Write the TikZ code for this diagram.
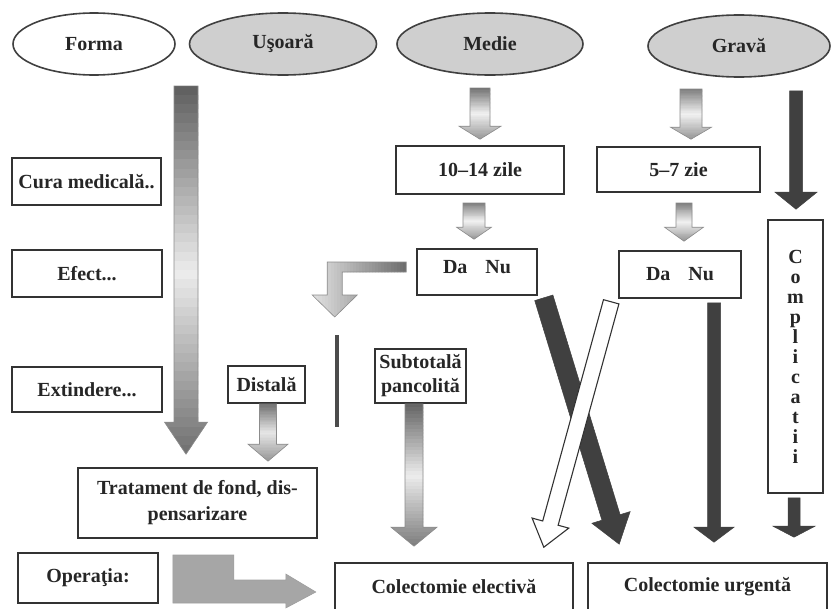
\documentclass[tikz,border=0pt]{standalone}
\usepackage{fontspec}
\setmainfont{Liberation Serif}
\usetikzlibrary{calc,shapes.geometric}

% block arrow outline: style, start, tip, half shaft width, half head width, head length (pt)
\newcommand\blockarrow[6]{%
  \path[#1] let \p1=#2, \p2=#3, \p3=($(\p2)!#6pt!(\p1)$) in
    ($(\p1)!#4pt!90:(\p2)$) -- ($(\p3)!#4pt!90:(\p2)$) -- ($(\p3)!#5pt!90:(\p2)$)
    -- (\p2)
    -- ($(\p3)!#5pt!-90:(\p2)$) -- ($(\p3)!#4pt!-90:(\p2)$) -- ($(\p1)!#4pt!-90:(\p2)$)
    -- cycle;}

% vertical block arrow filled with a banded grey gradient
% start, tip, half shaft, half head, head length, top / middle / bottom darkness (percent black)
\newcommand\gradarrow[8]{%
  \begin{scope}
    \blockarrow{clip}{#1}{#2}{#3}{#4}{#5}
    \foreach \i in {0,...,39}{%
      \pgfmathsetmacro\shade{\i<20 ? #6+(#7-#6)*\i/19.5 : #7+(#8-#7)*(\i-20)/19}
      \fill[black!\shade] let \p1=#1, \p2=#2 in
        ({\x1-40pt},{\y1+(\y2-\y1)*\i/40}) rectangle ({\x1+40pt},{\y1+(\y2-\y1)*(\i+1.5)/40});
    }
  \end{scope}
  \blockarrow{arrowedge}{#1}{#2}{#3}{#4}{#5}}

\tikzset{
  txt/.style={font=\fontsize{20}{24}\selectfont\bfseries, text=black!85},
  oval/.style={txt, ellipse, draw=black!75, line width=1.6pt, inner sep=0pt},
  whiteoval/.style={oval, fill=white},
  greyoval/.style={oval, fill=gray!38},
  box/.style={txt, rectangle, draw=black!80, line width=1.6pt, inner sep=0pt,
    fill=white, align=center},
  arrowedge/.style={draw=black!45, line width=0.6pt},
  darkarrow/.style={fill=black!75, draw=black!75, line width=0.5pt},
  hollowarrow/.style={fill=white, draw=black!80, line width=1.1pt},
  blockfill/.style={fill=gray!70, draw=gray!75, line width=0.6pt},
  stick/.style={line width=4pt, draw=black!70}
}

\begin{document}
\begin{tikzpicture}[x=1pt, y=-1pt]
\useasboundingbox (0,0) rectangle (835,608);
\fill[white] (0,0) rectangle (835,608);

% header ovals
\node[whiteoval, minimum width=162, minimum height=62] (forma)  at (94,44)  {Forma};
\node[greyoval,  minimum width=187, minimum height=62] (usoara) at (283,44) {Uşoară};
\node[greyoval,  minimum width=186, minimum height=62] (medie)  at (490,44) {Medie};
\node[greyoval,  minimum width=182, minimum height=62] (grava)  at (739,46) {Gravă};

% row labels
\node[box, minimum width=149, minimum height=47] (cura)  at (86.5,181.5) {Cura medicală..};
\node[box, minimum width=150, minimum height=47] (efect) at (87,273.5)   {Efect...};
\node[box, minimum width=150, minimum height=45] (ext)   at (87,389.5)   {Extindere...};
\node[box, minimum width=140, minimum height=50] (oper)  at (88,578)     {Operaţia:};

% flow boxes
\node[box, minimum width=239, minimum height=70, font=\fontsize{20}{26}\selectfont\bfseries]
  (trat) at (197.5,503) {Tratament de fond, dis-\\pensarizare};
\node[box, minimum width=168, minimum height=48] (z1014) at (480,170)   {10--14 zile};
\node[box, minimum width=163, minimum height=45] (z57)   at (678.5,169.5) {5--7 zie};
\node[box, minimum width=120, minimum height=46, text depth=10pt] (dn1) at (477,272) {Da\hspace{18pt}Nu};
\node[box, minimum width=122, minimum height=47] (dn2)   at (680,274.5) {Da\hspace{18pt}Nu};
\node[box, minimum width=77,  minimum height=37] (dist)  at (266.5,384.5) {Distală};
\node[box, minimum width=91,  minimum height=54] (subt)  at (420.5,376) {Subtotală\\pancolită};
\node[box, minimum width=55,  minimum height=273, font=\fontsize{20}{20}\selectfont\bfseries]
  (compl) at (795.5,356.5) {C\\o\\m\\p\\l\\i\\c\\a\\t\\i\\i};
\node[box, minimum width=238, minimum height=47] (colel) at (454,586.5) {Colectomie electivă};
\node[box, minimum width=239, minimum height=47] (colur) at (707.5,586.5) {Colectomie urgentă};

% arrow end points
\coordinate (uT) at ($(trat.north)+(-11.5,-13)$);
\coordinate (uS) at ($(uT |- usoara.south)+(0,10)$);
\coordinate (m1) at ($(z1014.north |- medie.south)+(0,12)$);
\coordinate (m2) at ($(z1014.north)+(0,-6)$);
\coordinate (n1) at ($(dn1.north |- z1014.south)+(-3,8)$);
\coordinate (n2) at ($(dn1.north)+(-3,-9)$);
\coordinate (g1) at ($(z57.north |- grava.south)+(12.5,11)$);
\coordinate (g2) at ($(z57.north)+(12.5,-7)$);
\coordinate (k1) at ($(dn2.north |- z57.south)+(4,10)$);
\coordinate (k2) at ($(dn2.north)+(4,-9)$);
\coordinate (d1) at ($(dn2.south)+(34,4)$);
\coordinate (d2) at ($(d1 |- colur.north)+(0,-20)$);
\coordinate (c1) at ($(compl.north |- grava.south)+(0.5,13)$);
\coordinate (c2) at ($(compl.north)+(0.5,-10)$);
\coordinate (c3) at ($(compl.south)+(-1.5,4)$);
\coordinate (c4) at ($(c3 |- colur.north)+(0,-25)$);
\coordinate (t1) at ($(dist.south)+(1.5,0)$);
\coordinate (t2) at ($(t1 |- trat.north)+(0,-6)$);
\coordinate (s1) at ($(subt.south)+(-6.5,0)$);
\coordinate (s2) at ($(s1 |- colel.north)+(0,-16)$);
\coordinate (x1) at ($(dn1.south east)+(6,2)$);
\coordinate (x2) at ($(colur.north west)+(32,-18)$);
\coordinate (w1) at ($(dn2.south west)+(-7,3)$);
\coordinate (w2) at ($(colel.north east)+(-30,-15)$);

% shaded arrows
\gradarrow{(uS)}{(uT)}{12}{21.5}{32}{62}{8}{55}
\gradarrow{(m1)}{(m2)}{10}{21}{13}{55}{6}{40}
\gradarrow{(n1)}{(n2)}{11}{17.5}{12}{50}{6}{40}
\gradarrow{(g1)}{(g2)}{11}{20.5}{12}{50}{6}{40}
\gradarrow{(k1)}{(k2)}{8}{19.5}{14}{50}{6}{40}
\gradarrow{(t1)}{(t2)}{8.5}{20}{17}{55}{10}{40}
\gradarrow{(s1)}{(s2)}{9}{23}{19}{60}{8}{50}

% solid arrows
\blockarrow{darkarrow}{(d1)}{(d2)}{6.5}{20}{15}
\blockarrow{darkarrow}{(c1)}{(c2)}{6.5}{21}{17}
\blockarrow{darkarrow}{(c3)}{(c4)}{6}{21}{11}
\blockarrow{darkarrow}{(x1)}{(x2)}{9.5}{20}{28}
\blockarrow{hollowarrow}{(w1)}{(w2)}{8}{19}{25}

% bent arrow leaving the first Da/Nu box, banded from light (left) to dark (right)
\begin{scope}
  \clip ($(dn1.west)+(-10,-10)$) -- ++(-79,0) -- ++(0,33) -- ++(-15,0)
    -- ++(22.5,22) -- ++(22.5,-22) -- ++(-15,0) -- ++(0,-23) -- ++(64,0) -- cycle;
  \foreach \i in {0,...,29}{%
    \pgfmathsetmacro\shade{12+45*\i/29}
    \fill[black!\shade] ($(dn1.west)+({-104+94*\i/30},-15)$) rectangle ++(4.5,70);
  }
\end{scope}
\path[arrowedge] ($(dn1.west)+(-10,-10)$) -- ++(-79,0) -- ++(0,33) -- ++(-15,0)
  -- ++(22.5,22) -- ++(22.5,-22) -- ++(-15,0) -- ++(0,-23) -- ++(64,0) -- cycle;

% block arrow beside the operation label
\path[blockfill] ($(oper.east)+(14,-23)$) -- ++(61,0) -- ++(0,25) -- ++(52,0)
  -- ++(0,-6) -- ++(30,18) -- ++(-30,16) -- ++(0,-5) -- ++(-113,0) -- cycle;

% separator bar
\draw[stick] (337,335) -- (337,427);
\end{tikzpicture}
\end{document}
